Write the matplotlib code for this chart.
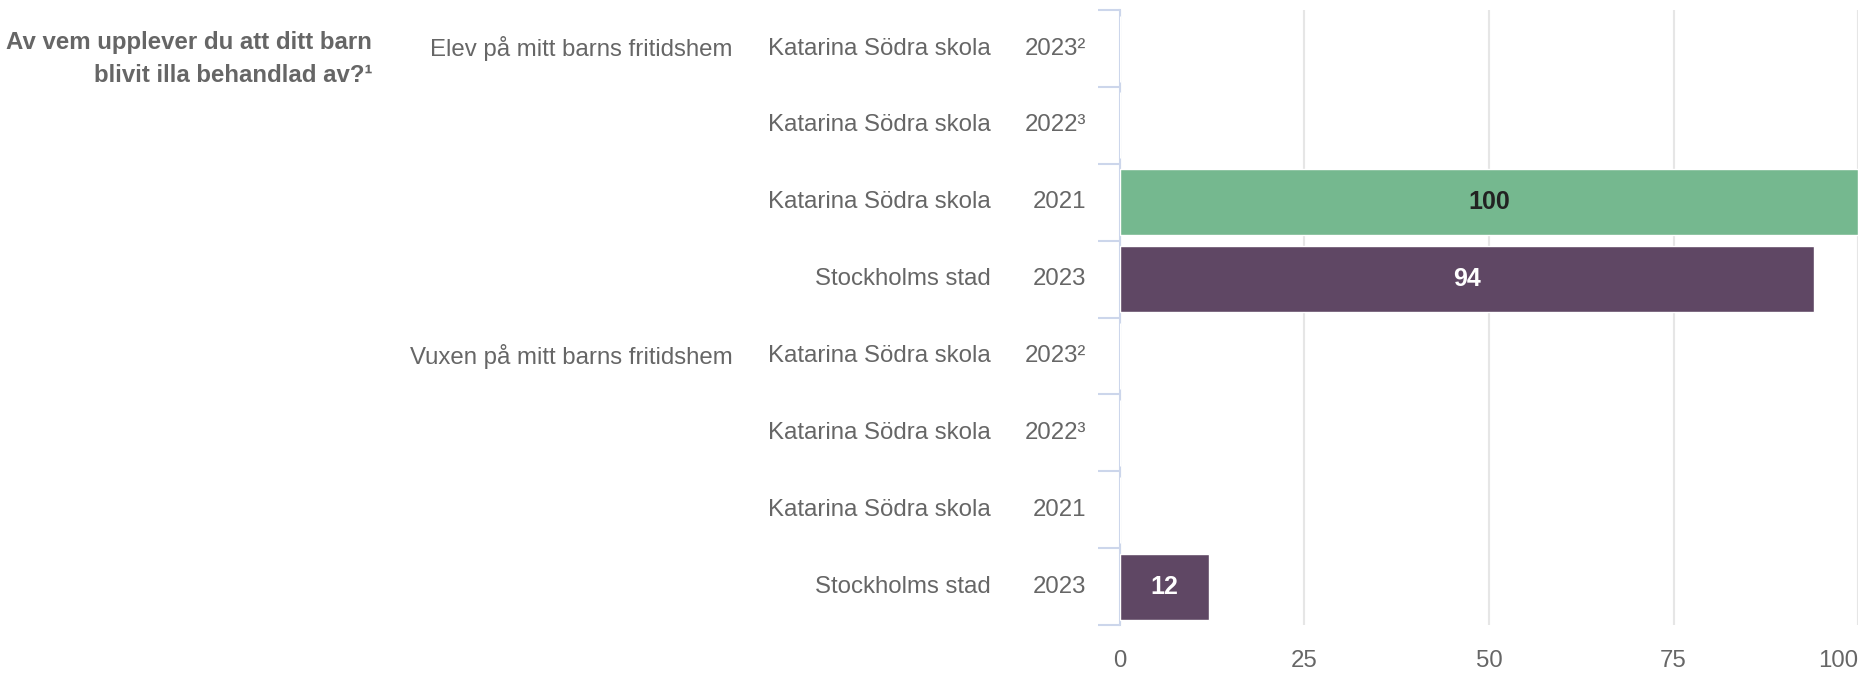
import numpy as np
import matplotlib.pyplot as plt
from matplotlib.transforms import blended_transform_factory

plt.rcParams['font.family'] = ['Liberation Sans', 'DejaVu Sans']

title = "Av vem upplever du att ditt barn\nblivit illa behandlad av?\u00b9"
groups = ["Elev på mitt barns fritidshem", "Vuxen på mitt barns fritidshem"]
units = ["Katarina Södra skola", "Katarina Södra skola", "Katarina Södra skola", "Stockholms stad"]
years = ["2023\u00b2", "2022\u00b3", "2021", "2023"]
elev = [np.nan, np.nan, 100, 94]
vuxen = [np.nan, np.nan, np.nan, 12]
row_colors = ["#75b88f", "#75b88f", "#75b88f", "#5f4764"]
label_colors = ["#222222", "#222222", "#222222", "#ffffff"]

grey = "#666666"
fs = 17.3
fig = plt.figure(figsize=(18.75, 6.75), dpi=100)
ax = fig.add_axes([0.5973, 0.074, 0.3937, 0.911])

values = elev + vuxen
n = len(values)
ypos = np.arange(n)
cols = row_colors * 2
lcols = label_colors * 2
vals = np.nan_to_num(np.array(values, dtype=float))
ax.barh(ypos, vals, height=0.86, color=cols, edgecolor='white', linewidth=1, zorder=3)
for y, v, c in zip(ypos, values, lcols):
    if not np.isnan(v):
        ax.text(v / 2, y, f"{v:.0f}", ha='center', va='center', color=c,
                fontsize=fs + 0.7, fontweight='bold', zorder=4)

ax.set_xlim(0, 100)
ax.set_ylim(n - 0.5, -0.5)
ax.set_xticks([0, 25, 50, 75, 100])
ax.tick_params(axis='x', length=0, labelsize=fs, labelcolor=grey, pad=18)
ax.get_xticklabels()[-1].set_horizontalalignment('right')
ax.grid(axis='x', color='#e6e6e6', linewidth=1.5, zorder=0)
ax.set_yticks(np.arange(n + 1) - 0.5)
ax.set_yticklabels([])
ax.tick_params(axis='y', length=16, width=1.5, color='#ccd6eb')
for s in ['top', 'right', 'bottom']:
    ax.spines[s].set_visible(False)
ax.spines['left'].set_color('#ccd6eb')
ax.spines['left'].set_linewidth(1.5)

tr = blended_transform_factory(fig.transFigure, ax.transData)
for i in range(n):
    ax.text(1086 / 1875, i, years[i % 4], transform=tr, ha='right', va='center',
            color=grey, fontsize=fs)
    ax.text(991 / 1875, i, units[i % 4], transform=tr, ha='right', va='center',
            color=grey, fontsize=fs)
for g, name in enumerate(groups):
    ax.text(733 / 1875, g * 4, name, transform=tr, ha='right', va='center',
            color=grey, fontsize=fs)

fig.text(372 / 1875, 1 - 59 / 675, title, ha='right', va='center', color=grey,
         fontsize=fs, fontweight='bold', linespacing=1.5)

fig.savefig("out.png", dpi=100)
